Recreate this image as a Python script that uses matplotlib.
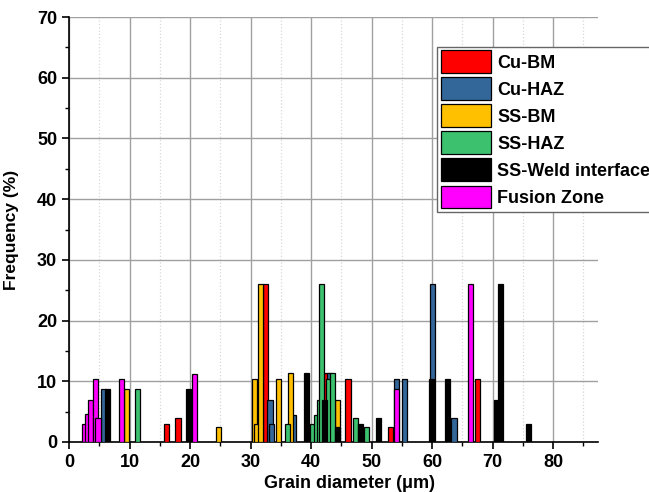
import matplotlib
matplotlib.use("Agg")
import matplotlib.pyplot as plt
from matplotlib.ticker import MultipleLocator

plt.rcParams['font.family'] = ['Liberation Sans', 'DejaVu Sans']
plt.rcParams['font.weight'] = 'bold'

# grain diameter (um) and frequency (%), per zone
cu_bm_x = [16.1, 18.0, 32.4, 42.6, 46.1, 53.1, 67.5]
cu_bm_y = [3.0, 3.9, 26.0, 11.3, 10.3, 2.5, 10.3]

cu_haz_x = [5.75, 33.2, 33.5, 37.1, 43.0, 54.1, 55.4, 60.1, 63.6]
cu_haz_y = [8.8, 6.9, 3.0, 4.4, 11.3, 10.3, 10.3, 26.0, 3.9]

ss_bm_x = [9.55, 24.7, 30.6, 31.0, 31.7, 34.65, 36.55, 44.35]
ss_bm_y = [8.7, 2.4, 10.3, 3.0, 26.0, 10.3, 11.3, 6.9]

ss_haz_x = [11.35, 36.1, 40.2, 40.9, 41.4, 41.7, 42.9, 43.6, 47.4, 49.1]
ss_haz_y = [8.7, 3.0, 3.0, 4.4, 6.9, 26.0, 10.3, 11.3, 3.9, 2.5]

ss_weld_x = [6.35, 19.7, 39.3, 42.15, 44.35, 48.2, 51.2, 59.9, 62.5, 70.6, 71.3, 75.9]
ss_weld_y = [8.8, 8.7, 11.3, 6.9, 2.5, 3.0, 3.9, 10.3, 10.3, 6.9, 26.0, 3.0]

fusion_x = [2.5, 3.15, 3.5, 4.35, 4.8, 8.7, 20.8, 54.1, 66.3]
fusion_y = [3.0, 4.6, 6.9, 10.3, 3.9, 10.3, 11.25, 8.7, 26.0]

series = [
    ("Cu-BM", cu_bm_x, cu_bm_y, "#ff0000"),
    ("Cu-HAZ", cu_haz_x, cu_haz_y, "#336699"),
    ("SS-BM", ss_bm_x, ss_bm_y, "#ffc000"),
    ("SS-HAZ", ss_haz_x, ss_haz_y, "#3cc26e"),
    ("SS-Weld interface", ss_weld_x, ss_weld_y, "#000000"),
    ("Fusion Zone", fusion_x, fusion_y, "#ff00ff"),
]

fig = plt.figure(figsize=(6.49, 4.92), dpi=100)
ax = fig.add_axes([69 / 649, 1 - 442 / 492, (598 - 69) / 649, (442 - 17) / 492])

for name, xs, ys, col in series:
    ax.bar(xs, ys, width=0.85, color=col, edgecolor='black', linewidth=0.9,
           label=name, zorder=3)

ax.set_xlim(0, 87.4)
ax.set_ylim(0, 70)
ax.xaxis.set_major_locator(MultipleLocator(10))
ax.xaxis.set_minor_locator(MultipleLocator(5))
ax.yaxis.set_major_locator(MultipleLocator(10))
ax.yaxis.set_minor_locator(MultipleLocator(5))

ax.grid(True, which='major', color='#a0a0a0', linewidth=1.0, zorder=0)
ax.grid(True, which='minor', axis='x', color='#d8d8d8', linestyle=':', linewidth=0.9, zorder=0)
ax.set_axisbelow(True)

for s in ['top', 'right']:
    ax.spines[s].set_visible(False)
for s in ['left', 'bottom']:
    ax.spines[s].set_linewidth(1.2)

ax.tick_params(which='major', direction='out', length=5, width=1.2, labelsize=13)
ax.tick_params(which='minor', direction='out', length=3, width=1.0)

ax.set_xlabel("Grain diameter (μm)", fontsize=13, fontweight='bold')
ax.set_ylabel("Frequency (%)", fontsize=12.5, fontweight='bold')
ax.xaxis.set_label_coords(0.53, -0.078)
ax.yaxis.set_label_coords(-0.095, 0.5)

leg = fig.legend(loc='upper left', bbox_to_anchor=(437 / 649, 1 - 46.7 / 492),
                 bbox_transform=fig.transFigure, borderaxespad=0,
                 handlelength=2.8, handleheight=1.55, handletextpad=0.35,
                 labelspacing=0.245, borderpad=0.2, fancybox=False, framealpha=1,
                 edgecolor='#666666', prop={'weight': 'bold', 'size': 13})
leg.get_frame().set_linewidth(1.0)

fig.savefig("out.png", dpi=100)
